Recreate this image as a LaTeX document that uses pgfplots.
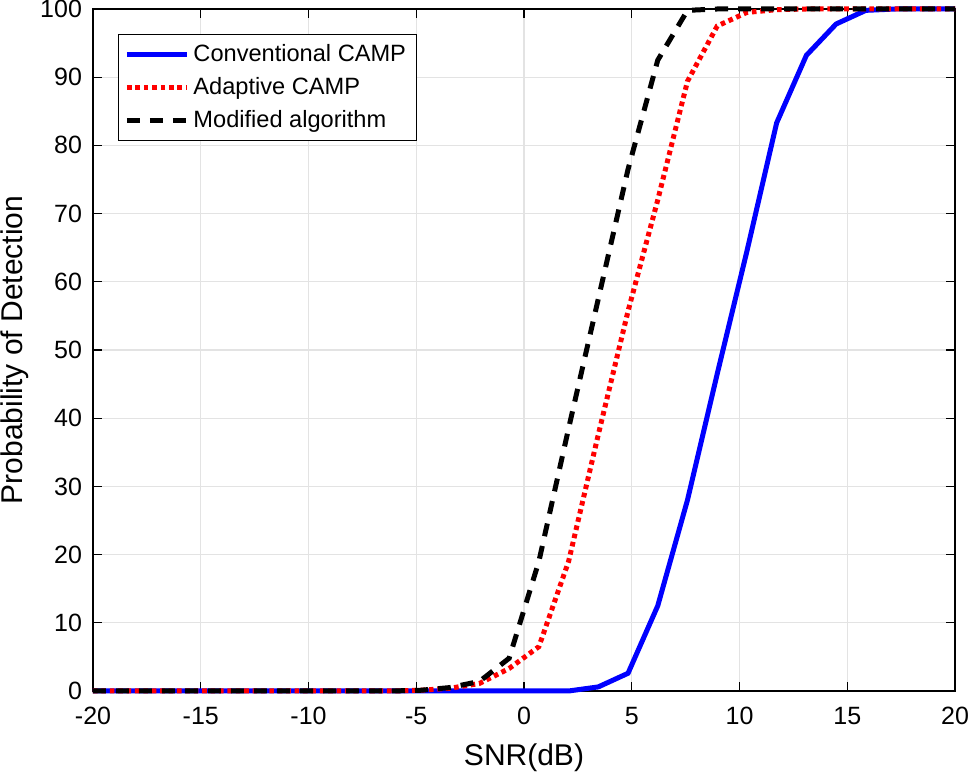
\documentclass[border=0pt]{standalone}
\usepackage{pgfplots}
\usepackage{pgfplotstable}
\pgfplotsset{compat=1.18}
\usepackage{fontspec}
\setmainfont{Liberation Sans}
\pgfplotstableread{
x conv adapt mod
-20 0 0 0
-18.621 0 0 0
-17.241 0 0 0
-15.862 0 0 0
-14.483 0 0 0
-13.103 0 0 0
-11.724 0 0 0
-10.345 0 0 0
-8.966 0 0 0
-7.586 0 0 0
-6.207 0 0 0
-4.828 0 0.1 0.1
-3.448 0 0.4 0.5
-2.069 0 1.1 1.4
-0.690 0 3.3 4.8
0.690 0 6.5 19
2.069 0 19 38.5
3.448 0.6 37.6 57.5
4.828 2.6 55.7 76.5
6.207 12.5 72 92.5
7.586 28 89.4 99.8
8.966 46.5 97.5 100
10.345 64.5 99.5 100
11.724 83.3 99.9 100
13.103 93.2 100 100
14.483 97.8 100 100
15.862 99.8 100 100
17.241 100 100 100
18.621 100 100 100
20 100 100 100
}\datatable
\begin{document}
\begin{tikzpicture}
\useasboundingbox (-46.5pt,-42pt) rectangle (438pt,345.5pt);
\begin{axis}[
  scale only axis,
  width=431pt, height=341pt,
  xmin=-20, xmax=20, ymin=0, ymax=100,
  xtick={-20,-15,...,20},
  ytick={0,10,...,100},
  grid=major,
  major grid style={gray!22, line width=0.6pt},
  axis line style={black, line width=0.6pt},
  tick style={black, line width=0.6pt},
  major tick length=4.5pt,
  tick align=inside,
  clip=false,
  /pgf/number format/assume math mode=true,
  ticklabel style={font=\fontsize{12.5}{14}\selectfont},
  xticklabel style={yshift=-4.5pt},
  yticklabel style={xshift=-2pt},
  label style={font=\fontsize{15}{17}\selectfont},
  xlabel={SNR(dB)},
  ylabel={Probability of Detection},
  xlabel style={at={(axis description cs:0.5,-0.0982)}, anchor=center},
  ylabel style={at={(axis description cs:-0.0905,0.5)}, anchor=center},
  legend style={at={(0,1)}, anchor=north west, xshift=12.5pt, yshift=-12.5pt,
    draw=black, line width=0.5pt, fill=white,
    font=\fontsize{11.8}{13}\selectfont,
    inner xsep=3pt, inner ysep=3pt, row sep=2.5pt,
    /tikz/every even column/.append style={column sep=2pt}},
  legend cell align=left,
  legend image code/.code={\draw[#1] (0pt,0pt) -- (30pt,0pt);},
]
\addplot[blue, line width=2.5pt] table[x=x, y=conv] {\datatable};
\addlegendentry{Conventional CAMP}
\addplot[red, line width=2.5pt, dash pattern=on 2.3pt off 1.9pt] table[x=x, y=adapt] {\datatable};
\addlegendentry{Adaptive CAMP}
\addplot[black, line width=2.5pt, dash pattern=on 6.5pt off 5pt] table[x=x, y=mod] {\datatable};
\addlegendentry{Modified algorithm}
\end{axis}
\end{tikzpicture}
\end{document}
